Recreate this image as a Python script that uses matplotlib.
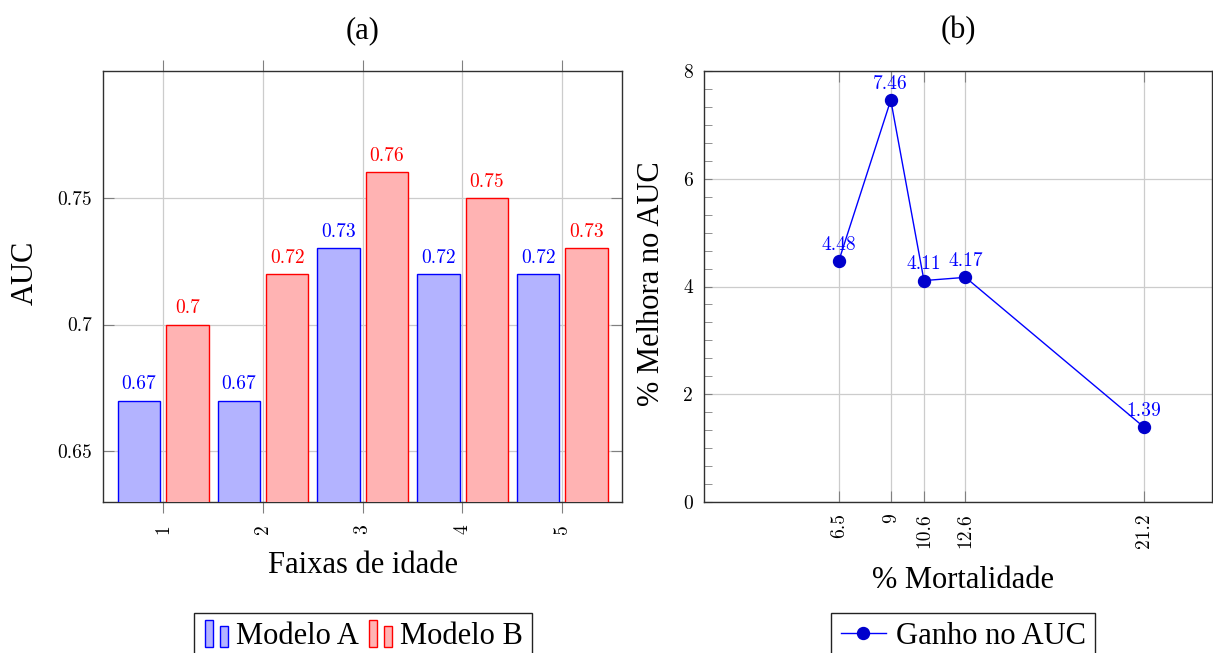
import numpy as np
import matplotlib
matplotlib.use("Agg")
import matplotlib.pyplot as plt
from matplotlib.patches import Rectangle
from matplotlib.container import BarContainer
from matplotlib.legend_handler import HandlerBase

# dados
faixas = [1, 2, 3, 4, 5]
modelo_a = [0.67, 0.67, 0.73, 0.72, 0.72]
modelo_b = [0.70, 0.72, 0.76, 0.75, 0.73]

mortalidade = [6.5, 9, 10.6, 12.6, 21.2]
ganho_auc = [4.48, 7.46, 4.11, 4.17, 1.39]

SERIF = "Liberation Serif"
CM = "cmr10"
FS_TICK = 14
GRID = "#cccccc"
TICKC = "#808080"
SPINE = "#303030"

blue_fill = "#b3b3ff"
red_fill = "#ffb3b3"


class TwoBars(HandlerBase):
    # legenda estilo pgfplots (duas barrinhas)
    def create_artists(self, legend, orig, xd, yd, w, h, fs, trans):
        p = orig.patches[0]
        fc, ec = p.get_facecolor(), p.get_edgecolor()
        r1 = Rectangle((-xd + 0.05 * w, -yd - 0.15 * h), 0.3 * w, 1.3 * h,
                       facecolor=fc, edgecolor=ec, lw=1, transform=trans)
        r2 = Rectangle((-xd + 0.65 * w, -yd - 0.15 * h), 0.3 * w, 1.0 * h,
                       facecolor=fc, edgecolor=ec, lw=1, transform=trans)
        return [r1, r2]


fig = plt.figure(figsize=(12.13, 6.53), dpi=100)
W, H = 1213, 653

def axes_px(x0, x1, y0, y1):
    return fig.add_axes([x0 / W, 1 - y1 / H, (x1 - x0) / W, (y1 - y0) / H])

# ---------------- (a)
ax1 = axes_px(103, 622, 71, 502)
x = np.array(faixas)
bw = 0.425
ba = ax1.bar(x - 0.24, modelo_a, bw, color=blue_fill, edgecolor="blue", lw=1, label="Modelo A", zorder=3)
bb = ax1.bar(x + 0.245, modelo_b, bw, color=red_fill, edgecolor="red", lw=1, label="Modelo B", zorder=3)
for xi, v in zip(x - 0.24, modelo_a):
    ax1.annotate(str(v), (xi, v), xytext=(0, 8), textcoords="offset points",
                 ha="center", va="baseline", color="blue", family=CM, fontsize=FS_TICK)
for xi, v in zip(x + 0.245, modelo_b):
    ax1.annotate(str(v), (xi, v), xytext=(0, 8), textcoords="offset points",
                 ha="center", va="baseline", color="red", family=CM, fontsize=FS_TICK)

ax1.set_xlim(0.4, 5.6)
ax1.set_ylim(0.63, 0.80)
ax1.set_xticks(faixas, [str(f) for f in faixas], rotation=90, family=CM, fontsize=FS_TICK)
ax1.set_yticks([0.65, 0.7, 0.75], ["0.65", "0.7", "0.75"], family=CM, fontsize=FS_TICK)
ax1.tick_params(axis="x", direction="out", length=8, color=TICKC, top=True, pad=8)
ax1.tick_params(axis="y", direction="in", length=8, color=TICKC, right=True, pad=8)
ax1.grid(True, color=GRID, lw=0.9, zorder=0)
ax1.set_axisbelow(True)
for s in ax1.spines.values():
    s.set_color(SPINE)
    s.set_linewidth(1.0)

ax1.set_title("(a)", family=SERIF, fontsize=22, y=1.093, pad=0, va="center")
ax1.set_xlabel("Faixas de idade", family=SERIF, fontsize=22, va="center")
ax1.xaxis.set_label_coords(0.501, -0.148)
ax1.set_ylabel("AUC", family=SERIF, fontsize=22, va="center")
ax1.yaxis.set_label_coords(-0.150, 0.531)

leg1 = ax1.legend(handles=[ba, bb], loc="upper center", bbox_to_anchor=(0.501, -0.2575),
                  ncol=2, prop={"family": SERIF, "size": 22}, frameon=True, fancybox=False,
                  edgecolor="#222222", framealpha=1, borderpad=0.3, handlelength=0.85,
                  handletextpad=0.2, columnspacing=0.3, borderaxespad=0,
                  handler_map={BarContainer: TwoBars()})
leg1.get_frame().set_linewidth(1.0)

# ---------------- (b)
ax2 = axes_px(704, 1212, 71, 502)
ax2.plot(mortalidade, ganho_auc, "-o", color="blue", lw=1.0, markersize=8.6,
         markerfacecolor="#0000cc", markeredgecolor="#0000cc", label="Ganho no AUC", zorder=3)
for xi, v in zip(mortalidade, ganho_auc):
    ax2.annotate(f"{v:.2f}", (xi, v), xytext=(0, 8), textcoords="offset points",
                 ha="center", va="baseline", color="blue", family=CM, fontsize=FS_TICK)

ax2.set_xlim(0, 24.48)
ax2.set_ylim(0, 8)
ax2.set_xticks(mortalidade, [f"{m:g}" for m in mortalidade], rotation=90, family=CM, fontsize=FS_TICK)
ax2.set_yticks([0, 2, 4, 6, 8], ["0", "2", "4", "6", "8"], family=CM, fontsize=FS_TICK)
ax2.set_yticks(np.arange(0, 8.01, 1 / 3), minor=True)
ax2.tick_params(axis="x", direction="in", length=8, color=TICKC, top=True, pad=8)
ax2.tick_params(axis="y", which="both", direction="in", length=5.5, color=TICKC, pad=8)
ax2.grid(True, which="major", color=GRID, lw=0.9, zorder=0)
ax2.set_axisbelow(True)
for s in ax2.spines.values():
    s.set_color(SPINE)
    s.set_linewidth(1.0)

ax2.set_title("(b)", family=SERIF, fontsize=22, y=1.093, pad=0, va="center")
ax2.set_xlabel("% Mortalidade", family=SERIF, fontsize=22, va="center")
ax2.xaxis.set_label_coords(0.51, -0.181)
ax2.set_ylabel("% Melhora no AUC", family=SERIF, fontsize=22, va="center")
ax2.yaxis.set_label_coords(-0.104, 0.506)

leg2 = ax2.legend(loc="upper center", bbox_to_anchor=(0.51, -0.2575),
                  prop={"family": SERIF, "size": 22}, frameon=True, fancybox=False,
                  edgecolor="#222222", framealpha=1, borderpad=0.3, handlelength=1.5,
                  handletextpad=0.3, borderaxespad=0)
leg2.get_frame().set_linewidth(1.0)

fig.savefig("out.png", dpi=100)
